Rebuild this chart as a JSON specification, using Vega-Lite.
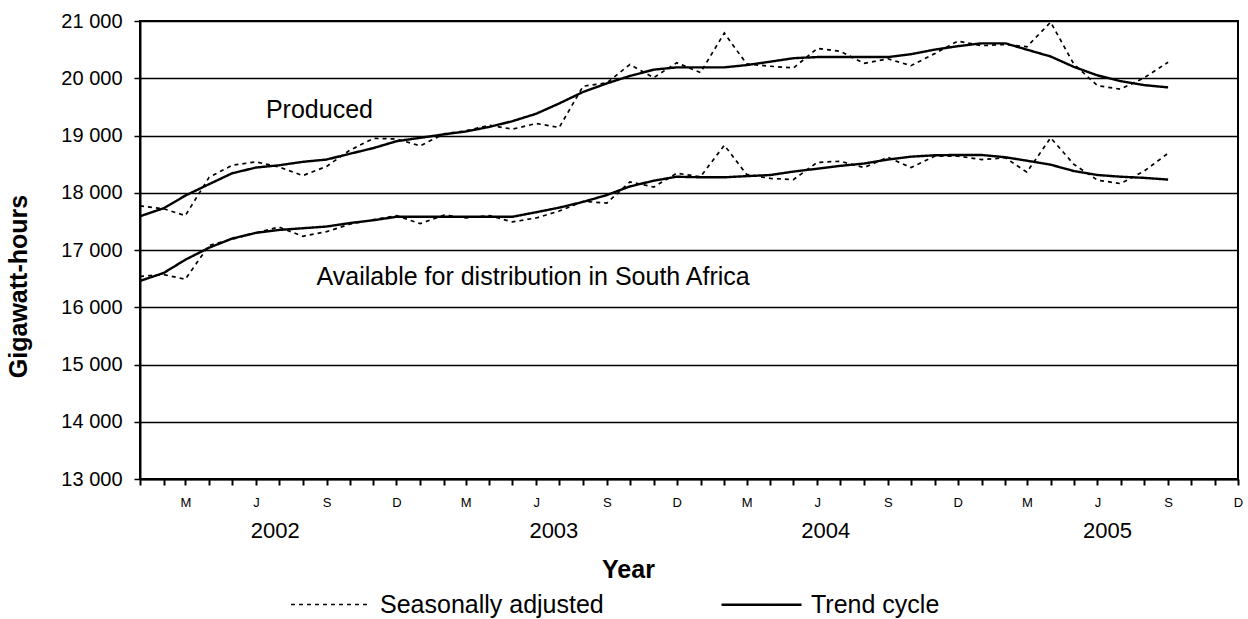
{
  "$schema": "https://vega.github.io/schema/vega-lite/v6.json",
  "width": 1098,
  "height": 458,
  "autosize": {"type": "none"},
  "padding": {"left": 140, "top": 21, "right": 10, "bottom": 140},
  "background": "white",
  "config": {
    "view": {"stroke": "black", "strokeWidth": 2},
    "font": "Liberation Sans"
  },
  "datasets": {
    "monthly": [
      {"date": "2002-01-01", "series": "Produced", "Seasonally adjusted": 17770, "Trend cycle": 17590},
      {"date": "2002-02-01", "series": "Produced", "Seasonally adjusted": 17720, "Trend cycle": 17730},
      {"date": "2002-03-01", "series": "Produced", "Seasonally adjusted": 17600, "Trend cycle": 17950},
      {"date": "2002-04-01", "series": "Produced", "Seasonally adjusted": 18270, "Trend cycle": 18150},
      {"date": "2002-05-01", "series": "Produced", "Seasonally adjusted": 18480, "Trend cycle": 18340},
      {"date": "2002-06-01", "series": "Produced", "Seasonally adjusted": 18540, "Trend cycle": 18440},
      {"date": "2002-07-01", "series": "Produced", "Seasonally adjusted": 18450, "Trend cycle": 18480},
      {"date": "2002-08-01", "series": "Produced", "Seasonally adjusted": 18300, "Trend cycle": 18540},
      {"date": "2002-09-01", "series": "Produced", "Seasonally adjusted": 18460, "Trend cycle": 18580},
      {"date": "2002-10-01", "series": "Produced", "Seasonally adjusted": 18740, "Trend cycle": 18680},
      {"date": "2002-11-01", "series": "Produced", "Seasonally adjusted": 18950, "Trend cycle": 18780},
      {"date": "2002-12-01", "series": "Produced", "Seasonally adjusted": 18940, "Trend cycle": 18900},
      {"date": "2003-01-01", "series": "Produced", "Seasonally adjusted": 18820, "Trend cycle": 18960},
      {"date": "2003-02-01", "series": "Produced", "Seasonally adjusted": 19030, "Trend cycle": 19020},
      {"date": "2003-03-01", "series": "Produced", "Seasonally adjusted": 19080, "Trend cycle": 19070},
      {"date": "2003-04-01", "series": "Produced", "Seasonally adjusted": 19180, "Trend cycle": 19150},
      {"date": "2003-05-01", "series": "Produced", "Seasonally adjusted": 19110, "Trend cycle": 19250},
      {"date": "2003-06-01", "series": "Produced", "Seasonally adjusted": 19210, "Trend cycle": 19380},
      {"date": "2003-07-01", "series": "Produced", "Seasonally adjusted": 19140, "Trend cycle": 19560},
      {"date": "2003-08-01", "series": "Produced", "Seasonally adjusted": 19860, "Trend cycle": 19760},
      {"date": "2003-09-01", "series": "Produced", "Seasonally adjusted": 19920, "Trend cycle": 19910},
      {"date": "2003-10-01", "series": "Produced", "Seasonally adjusted": 20240, "Trend cycle": 20040},
      {"date": "2003-11-01", "series": "Produced", "Seasonally adjusted": 20010, "Trend cycle": 20150},
      {"date": "2003-12-01", "series": "Produced", "Seasonally adjusted": 20270, "Trend cycle": 20190},
      {"date": "2004-01-01", "series": "Produced", "Seasonally adjusted": 20100, "Trend cycle": 20190},
      {"date": "2004-02-01", "series": "Produced", "Seasonally adjusted": 20790, "Trend cycle": 20190},
      {"date": "2004-03-01", "series": "Produced", "Seasonally adjusted": 20250, "Trend cycle": 20230},
      {"date": "2004-04-01", "series": "Produced", "Seasonally adjusted": 20210, "Trend cycle": 20290},
      {"date": "2004-05-01", "series": "Produced", "Seasonally adjusted": 20180, "Trend cycle": 20350},
      {"date": "2004-06-01", "series": "Produced", "Seasonally adjusted": 20520, "Trend cycle": 20370},
      {"date": "2004-07-01", "series": "Produced", "Seasonally adjusted": 20470, "Trend cycle": 20370},
      {"date": "2004-08-01", "series": "Produced", "Seasonally adjusted": 20260, "Trend cycle": 20370},
      {"date": "2004-09-01", "series": "Produced", "Seasonally adjusted": 20340, "Trend cycle": 20370},
      {"date": "2004-10-01", "series": "Produced", "Seasonally adjusted": 20220, "Trend cycle": 20420},
      {"date": "2004-11-01", "series": "Produced", "Seasonally adjusted": 20430, "Trend cycle": 20500},
      {"date": "2004-12-01", "series": "Produced", "Seasonally adjusted": 20650, "Trend cycle": 20560},
      {"date": "2005-01-01", "series": "Produced", "Seasonally adjusted": 20570, "Trend cycle": 20610},
      {"date": "2005-02-01", "series": "Produced", "Seasonally adjusted": 20590, "Trend cycle": 20610},
      {"date": "2005-03-01", "series": "Produced", "Seasonally adjusted": 20550, "Trend cycle": 20500},
      {"date": "2005-04-01", "series": "Produced", "Seasonally adjusted": 20980, "Trend cycle": 20380},
      {"date": "2005-05-01", "series": "Produced", "Seasonally adjusted": 20250, "Trend cycle": 20200},
      {"date": "2005-06-01", "series": "Produced", "Seasonally adjusted": 19870, "Trend cycle": 20050},
      {"date": "2005-07-01", "series": "Produced", "Seasonally adjusted": 19810, "Trend cycle": 19950},
      {"date": "2005-08-01", "series": "Produced", "Seasonally adjusted": 20010, "Trend cycle": 19880},
      {"date": "2005-09-01", "series": "Produced", "Seasonally adjusted": 20280, "Trend cycle": 19840},
      {"date": "2002-01-01", "series": "Available", "Seasonally adjusted": 16540, "Trend cycle": 16460},
      {"date": "2002-02-01", "series": "Available", "Seasonally adjusted": 16570, "Trend cycle": 16600},
      {"date": "2002-03-01", "series": "Available", "Seasonally adjusted": 16490, "Trend cycle": 16830},
      {"date": "2002-04-01", "series": "Available", "Seasonally adjusted": 17080, "Trend cycle": 17040},
      {"date": "2002-05-01", "series": "Available", "Seasonally adjusted": 17190, "Trend cycle": 17200},
      {"date": "2002-06-01", "series": "Available", "Seasonally adjusted": 17300, "Trend cycle": 17300},
      {"date": "2002-07-01", "series": "Available", "Seasonally adjusted": 17400, "Trend cycle": 17350},
      {"date": "2002-08-01", "series": "Available", "Seasonally adjusted": 17240, "Trend cycle": 17380},
      {"date": "2002-09-01", "series": "Available", "Seasonally adjusted": 17320, "Trend cycle": 17410},
      {"date": "2002-10-01", "series": "Available", "Seasonally adjusted": 17450, "Trend cycle": 17470},
      {"date": "2002-11-01", "series": "Available", "Seasonally adjusted": 17530, "Trend cycle": 17520},
      {"date": "2002-12-01", "series": "Available", "Seasonally adjusted": 17600, "Trend cycle": 17580},
      {"date": "2003-01-01", "series": "Available", "Seasonally adjusted": 17460, "Trend cycle": 17580},
      {"date": "2003-02-01", "series": "Available", "Seasonally adjusted": 17610, "Trend cycle": 17580},
      {"date": "2003-03-01", "series": "Available", "Seasonally adjusted": 17560, "Trend cycle": 17580},
      {"date": "2003-04-01", "series": "Available", "Seasonally adjusted": 17600, "Trend cycle": 17580},
      {"date": "2003-05-01", "series": "Available", "Seasonally adjusted": 17490, "Trend cycle": 17580},
      {"date": "2003-06-01", "series": "Available", "Seasonally adjusted": 17560, "Trend cycle": 17660},
      {"date": "2003-07-01", "series": "Available", "Seasonally adjusted": 17680, "Trend cycle": 17740},
      {"date": "2003-08-01", "series": "Available", "Seasonally adjusted": 17850, "Trend cycle": 17840},
      {"date": "2003-09-01", "series": "Available", "Seasonally adjusted": 17820, "Trend cycle": 17960},
      {"date": "2003-10-01", "series": "Available", "Seasonally adjusted": 18190, "Trend cycle": 18110},
      {"date": "2003-11-01", "series": "Available", "Seasonally adjusted": 18100, "Trend cycle": 18210},
      {"date": "2003-12-01", "series": "Available", "Seasonally adjusted": 18340, "Trend cycle": 18280},
      {"date": "2004-01-01", "series": "Available", "Seasonally adjusted": 18280, "Trend cycle": 18270},
      {"date": "2004-02-01", "series": "Available", "Seasonally adjusted": 18830, "Trend cycle": 18270},
      {"date": "2004-03-01", "series": "Available", "Seasonally adjusted": 18320, "Trend cycle": 18290},
      {"date": "2004-04-01", "series": "Available", "Seasonally adjusted": 18250, "Trend cycle": 18310},
      {"date": "2004-05-01", "series": "Available", "Seasonally adjusted": 18230, "Trend cycle": 18370},
      {"date": "2004-06-01", "series": "Available", "Seasonally adjusted": 18530, "Trend cycle": 18420},
      {"date": "2004-07-01", "series": "Available", "Seasonally adjusted": 18550, "Trend cycle": 18470},
      {"date": "2004-08-01", "series": "Available", "Seasonally adjusted": 18440, "Trend cycle": 18510},
      {"date": "2004-09-01", "series": "Available", "Seasonally adjusted": 18620, "Trend cycle": 18580},
      {"date": "2004-10-01", "series": "Available", "Seasonally adjusted": 18440, "Trend cycle": 18630},
      {"date": "2004-11-01", "series": "Available", "Seasonally adjusted": 18640, "Trend cycle": 18655},
      {"date": "2004-12-01", "series": "Available", "Seasonally adjusted": 18640, "Trend cycle": 18660},
      {"date": "2005-01-01", "series": "Available", "Seasonally adjusted": 18580, "Trend cycle": 18660},
      {"date": "2005-02-01", "series": "Available", "Seasonally adjusted": 18610, "Trend cycle": 18620},
      {"date": "2005-03-01", "series": "Available", "Seasonally adjusted": 18360, "Trend cycle": 18560},
      {"date": "2005-04-01", "series": "Available", "Seasonally adjusted": 18960, "Trend cycle": 18490},
      {"date": "2005-05-01", "series": "Available", "Seasonally adjusted": 18500, "Trend cycle": 18380},
      {"date": "2005-06-01", "series": "Available", "Seasonally adjusted": 18220, "Trend cycle": 18310},
      {"date": "2005-07-01", "series": "Available", "Seasonally adjusted": 18160, "Trend cycle": 18280},
      {"date": "2005-08-01", "series": "Available", "Seasonally adjusted": 18380, "Trend cycle": 18260},
      {"date": "2005-09-01", "series": "Available", "Seasonally adjusted": 18690, "Trend cycle": 18230}
    ],
    "labels": [
      {"date": "2002-06-14", "value": 19445, "label": "Produced"},
      {"date": "2002-08-19", "value": 16528, "label": "Available for distribution in South Africa"}
    ],
    "years": [
      {"date": "2002-06-26", "label": "2002"},
      {"date": "2003-06-24", "label": "2003"},
      {"date": "2004-06-12", "label": "2004"},
      {"date": "2005-06-14", "label": "2005"}
    ]
  },
  "layer": [
    {
      "data": {"name": "monthly"},
      "transform": [{"fold": ["Seasonally adjusted", "Trend cycle"], "as": ["type", "value"]}],
      "mark": {"type": "line", "clip": true, "color": "black"},
      "encoding": {
        "x": {
          "field": "date",
          "type": "temporal",
          "scale": {
            "type": "utc",
            "domain": [
              {"year": 2002, "month": 1, "date": 1, "utc": true},
              {"year": 2005, "month": 12, "date": 1, "utc": true}
            ]
          },
          "axis": {
            "tickCount": {"interval": "month", "step": 1},
            "labelExpr": "indexof([2,5,8,11], utcmonth(datum.value)) >= 0 ? slice(utcFormat(datum.value, '%b'), 0, 1) : ''",
            "labelOverlap": false,
            "labelFlush": false,
            "labelBound": false,
            "grid": false,
            "domainColor": "black",
            "domainWidth": 2,
            "tickColor": "black",
            "tickWidth": 2,
            "tickSize": 6,
            "labelFontSize": 13,
            "labelColor": "black",
            "labelPadding": 11,
            "title": "Year",
            "titleFontSize": 25,
            "titleFontWeight": "bold",
            "titleColor": "black",
            "titleX": 488,
            "titleY": 90,
            "titleBaseline": "middle",
            "titleAlign": "center"
          }
        },
        "y": {
          "field": "value",
          "type": "quantitative",
          "scale": {"domain": [13000, 21000]},
          "axis": {
            "values": [13000, 14000, 15000, 16000, 17000, 18000, 19000, 20000, 21000],
            "labelExpr": "replace(format(datum.value, ','), ',', ' ')",
            "grid": true,
            "gridColor": "black",
            "gridWidth": 1.5,
            "domainColor": "black",
            "domainWidth": 2,
            "tickColor": "black",
            "tickWidth": 1.5,
            "tickSize": 6,
            "labelFontSize": 20,
            "labelColor": "black",
            "labelPadding": 12,
            "title": "Gigawatt-hours",
            "titleFontSize": 25,
            "titleFontWeight": "bold",
            "titleColor": "black",
            "titleX": -122,
            "titleY": 265,
            "titleBaseline": "middle",
            "titleAlign": "center"
          }
        },
        "detail": {"field": "series", "type": "nominal"},
        "strokeDash": {
          "field": "type",
          "type": "ordinal",
          "scale": {"domain": ["Seasonally adjusted", "Trend cycle"], "range": [[4, 4], [1, 0]]},
          "legend": {
            "title": null,
            "orient": "none",
            "legendX": 150,
            "legendY": 542,
            "direction": "horizontal",
            "symbolType": "stroke",
            "symbolSize": 6400,
            "symbolStrokeColor": "black",
            "symbolStrokeWidth": 2,
            "labelFontSize": 25,
            "labelLimit": 400,
            "labelOffset": 8,
            "columnPadding": 112,
            "labelColor": "black",
            "padding": 0
          }
        },
        "strokeWidth": {
          "field": "type",
          "type": "ordinal",
          "scale": {"domain": ["Seasonally adjusted", "Trend cycle"], "range": [1.7, 2.4]},
          "legend": null
        }
      }
    },
    {
      "data": {"name": "labels"},
      "mark": {"type": "text", "align": "left", "baseline": "middle", "fontSize": 25, "color": "black"},
      "encoding": {
        "x": {"field": "date", "type": "temporal"},
        "y": {"field": "value", "type": "quantitative"},
        "text": {"field": "label", "type": "nominal"}
      }
    },
    {
      "data": {"name": "years"},
      "mark": {"type": "text", "align": "center", "baseline": "middle", "fontSize": 22, "color": "black"},
      "encoding": {
        "x": {"field": "date", "type": "temporal"},
        "y": {"datum": 12090},
        "text": {"field": "label", "type": "nominal"}
      }
    }
  ]
}
